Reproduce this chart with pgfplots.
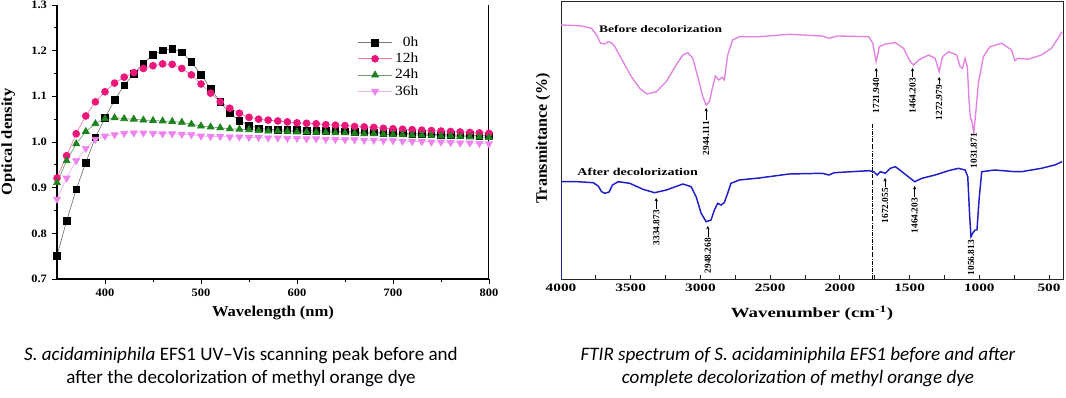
\documentclass[border=0pt]{standalone}
\usepackage{fontspec}
\setmainfont{Liberation Serif}
\newfontfamily\lserif[FakeStretch=1.1]{Liberation Serif}
\newfontfamily\rserif[FakeStretch=1.35]{Liberation Serif}
\newfontfamily\capfont{Carlito}
\usepackage{pgfplots}
\usepackage{pgfplotstable}
\pgfplotsset{compat=1.18}
\usetikzlibrary{arrows.meta}
\definecolor{pinkM}{RGB}{236,22,123}
\definecolor{pinkL}{RGB}{240,120,170}
\definecolor{greenM}{RGB}{30,130,30}
\definecolor{greenL}{RGB}{110,160,110}
\definecolor{violM}{RGB}{238,130,238}
\definecolor{violL}{RGB}{245,175,245}
\definecolor{grayL}{RGB}{120,120,120}
\definecolor{ftirP}{RGB}{228,128,228}
\definecolor{ftirB}{RGB}{30,30,200}

\pgfplotstableread{
wl h0 h12 h24 h36
350 0.751 0.921 0.911 0.875
360 0.827 0.970 0.959 0.921
370 0.896 1.018 0.996 0.959
380 0.955 1.057 1.023 0.986
390 1.010 1.088 1.040 1.006
400 1.053 1.110 1.051 1.013
410 1.092 1.129 1.053 1.016
420 1.124 1.142 1.051 1.019
430 1.150 1.152 1.050 1.020
440 1.172 1.161 1.048 1.020
450 1.191 1.167 1.047 1.019
460 1.201 1.171 1.046 1.018
470 1.204 1.170 1.045 1.018
480 1.196 1.161 1.043 1.017
490 1.176 1.147 1.039 1.016
500 1.147 1.127 1.035 1.013
510 1.117 1.107 1.033 1.012
520 1.088 1.088 1.031 1.012
530 1.063 1.074 1.029 1.011
540 1.047 1.063 1.028 1.011
550 1.036 1.054 1.027 1.010
560 1.030 1.050 1.025 1.010
570 1.028 1.048 1.024 1.009
580 1.027 1.046 1.024 1.009
590 1.026 1.044 1.023 1.008
600 1.026 1.042 1.022 1.008
610 1.025 1.041 1.022 1.007
620 1.025 1.040 1.021 1.007
630 1.024 1.038 1.021 1.006
640 1.024 1.037 1.020 1.006
650 1.023 1.036 1.020 1.005
660 1.022 1.034 1.019 1.005
670 1.022 1.033 1.018 1.004
680 1.021 1.032 1.018 1.004
690 1.020 1.030 1.017 1.003
700 1.020 1.029 1.016 1.003
710 1.019 1.028 1.016 1.002
720 1.018 1.027 1.015 1.001
730 1.018 1.026 1.015 1.001
740 1.017 1.025 1.014 1.000
750 1.016 1.024 1.013 1.000
760 1.016 1.023 1.013 0.999
770 1.015 1.022 1.012 0.998
780 1.015 1.021 1.011 0.998
790 1.014 1.020 1.011 0.997
800 1.014 1.019 1.010 0.996
}\uvvis

\pgfplotstableread{
w t
4000 254
3864 253.3
3781 250.7
3745 244
3716 235.7
3686 235
3662 237.3
3638 236.3
3614 232.3
3555 217.3
3495 202.3
3436 190.7
3384 185
3317 187.3
3245 197.3
3174 214
3126 224
3090 226.3
3055 220.7
3019 202.3
2983 182.3
2959 174
2936 177.3
2912 192.3
2893 203
2869 199
2845 201.7
2829 199
2805 224
2769 239
2721 242.3
2579 242.3
2364 244.7
2126 243
2079 240.7
2019 243
1793 242.3
1764 235.7
1740 217.3
1717 232.3
1674 235
1602 236.3
1543 230.7
1495 217.3
1471 214
1436 219
1364 224
1317 220.7
1288 207.3
1264 222.3
1221 227.3
1162 224
1138 212.3
1121 210.7
1102 220.7
1086 212.3
1074 179
1064 160.7
1055 159
1040 145.7
1026 165.7
1007 195.7
971 222.3
924 232.3
840 235.7
769 229
745 218.3
721 220.7
650 219.7
555 224
483 230.7
436 240.7
407 247.3
}\before

\pgfplotstableread{
w t
4000 0
4000 97.3
3881 97.3
3769 96.3
3733 93
3709 87.3
3686 85.7
3655 87
3631 94
3590 97.3
3507 95.7
3412 89.7
3329 86.3
3245 89
3126 95
3067 92.3
3031 82.3
2995 65.7
2959 57.3
2924 59
2900 69
2876 75.7
2852 74
2829 76.3
2805 85.7
2781 95.7
2721 99
2579 101
2364 105
2126 105.7
2079 104
2040 106.3
1793 108.3
1757 107.3
1733 104
1710 107.3
1674 105.7
1638 110.7
1602 112.3
1555 107.3
1495 100.7
1464 97.3
1412 100.7
1317 104
1221 108.3
1150 110.7
1102 109
1083 102.3
1069 62.3
1060 42.3
1048 45.7
1031 49
1017 49
1002 79
983 107.3
888 109
745 107.3
698 107.3
555 110.7
459 114
407 117.3
}\after

\begin{document}
\begin{tikzpicture}
\path[use as bounding box] (0,0) rectangle (799.5pt,297.75pt);

% ---------- left: UV-Vis ----------
\begin{axis}[
  at={(42.75pt,88.5pt)}, anchor=south west,
  scale only axis, width=324pt, height=205.5pt,
  xmin=350, xmax=800, ymin=0.7, ymax=1.3,
  axis x line*=bottom, axis y line*=left,
  axis line style={line width=0.9pt,-},
  xtick={400,500,600,700,800}, minor xtick={450,550,650,750},
  ytick={0.7,0.8,0.9,1.0,1.1,1.2,1.3},
  minor ytick={0.75,0.85,0.95,1.05,1.15,1.25},
  tick align=outside, major tick length=4pt, minor tick length=2.5pt,
  tick style={line width=0.7pt,black},
  /pgf/number format/assume math mode=true,
  yticklabel style={/pgf/number format/.cd, fixed, fixed zerofill, precision=1},
  tick label style={font=\lserif\bfseries\fontsize{8.5}{10}\selectfont},
  xlabel={Wavelength (nm)}, ylabel={Optical density},
  label style={font=\lserif\bfseries\fontsize{11.3}{13}\selectfont},
  xlabel style={at={(axis description cs:0.5,-0.124)}, anchor=center},
  ylabel style={at={(axis description cs:-0.113,0.5)}, anchor=center},
  legend style={at={(axis description cs:0.843,0.895)}, anchor=north east,
    draw=none, fill=none, font=\lserif\fontsize{10.5}{12}\selectfont,
    row sep=-0.6pt, inner sep=0pt},
  legend cell align=right,
  legend image code/.code={\draw[mark repeat=2,mark phase=2] plot coordinates {(0cm,0cm) (0.45cm,0cm) (0.9cm,0cm)};},
]
\addplot[grayL, line width=0.5pt, mark=square*, mark size=2.5pt, mark options={black, fill=black}] table[x=wl,y=h0] {\uvvis};
\addlegendentry{0h}
\addplot[pinkL, line width=0.5pt, mark=*, mark size=2.6pt, mark options={pinkM, fill=pinkM}] table[x=wl,y=h12] {\uvvis};
\addlegendentry{12h}
\addplot[greenL, line width=0.5pt, mark=triangle*, mark size=3pt, mark options={greenM, fill=greenM}] table[x=wl,y=h24] {\uvvis};
\addlegendentry{24h}
\addplot[violL, line width=0.5pt, mark=triangle*, mark size=3pt, mark options={violM, fill=violM, rotate=180}] table[x=wl,y=h36] {\uvvis};
\addlegendentry{36h}
\draw[line width=0.9pt] (rel axis cs:1,0) -- (rel axis cs:1,1);
\end{axis}

% ---------- right: FTIR ----------
\begin{axis}[
  at={(420.75pt,88.5pt)}, anchor=south west,
  scale only axis, width=376.5pt, height=208.5pt,
  x dir=reverse, xmin=400, xmax=4000, ymin=0, ymax=278,
  axis line style={line width=0.6pt, black!85},
  ytick=\empty,
  xtick={500,1000,1500,2000,2500,3000,3500,4000},
  minor xtick={750,1250,1750,2250,2750,3250,3750},
  xtick pos=bottom, tick align=inside,
  major tick length=3pt, minor tick length=3pt,
  tick style={line width=0.6pt,black!85},
  /pgf/number format/assume math mode=true,
  /pgf/number format/1000 sep={},
  tick label style={font=\rserif\bfseries\fontsize{8.5}{10}\selectfont},
  xlabel={Wavenumber (cm\textsuperscript{-1})}, ylabel={Transmittance (\%)},
  xlabel style={font=\rserif\bfseries\fontsize{10.5}{12}\selectfont, at={(axis description cs:0.5,-0.122)}, anchor=center},
  ylabel style={font=\bfseries\fontsize{12}{14}\selectfont, at={(axis description cs:-0.036,0.505)}, anchor=center},
]
\addplot[ftirP, line width=1pt] table[x=w,y=t] {\before};
\addplot[ftirB, line width=1.1pt] table[x=w,y=t] {\after};
\draw[densely dashdotted, line width=0.6pt] (axis cs:1770,0) -- (axis cs:1770,156);
\node[font=\rserif\bfseries\fontsize{7.5}{9}\selectfont] at (axis cs:3286,250) {Before decolorization};
\node[font=\rserif\bfseries\fontsize{7.8}{9}\selectfont] at (axis cs:3450,107) {After decolorization};
\begin{scope}[every node/.style={font=\bfseries\fontsize{7}{8}\selectfont, rotate=90, anchor=east, inner sep=0pt}]
\node at (axis cs:2959,158) {2944.111};
\node at (axis cs:1740,201) {1721.940};
\node at (axis cs:1479,201) {1464.203};
\node at (axis cs:1288,194) {1272.979};
\node at (axis cs:1040,146) {1031.871};
\node at (axis cs:3317,69) {3334.873};
\node at (axis cs:2947,41) {2948.268};
\node at (axis cs:1676,91) {1672.055};
\node at (axis cs:1464,81) {1464.203};
\node at (axis cs:1060,39) {1056.813};
\end{scope}
\begin{scope}[-{Stealth[length=2.5pt,width=2.5pt]}, line width=0.5pt]
\draw (axis cs:2959,159) -- (axis cs:2959,171);
\draw (axis cs:1740,202) -- (axis cs:1740,211);
\draw (axis cs:1479,202) -- (axis cs:1479,211);
\draw (axis cs:1288,195) -- (axis cs:1288,202);
\draw (axis cs:3317,70) -- (axis cs:3317,81);
\draw (axis cs:2947,42) -- (axis cs:2947,53);
\draw (axis cs:1676,92) -- (axis cs:1676,101);
\draw (axis cs:1464,82) -- (axis cs:1464,93);
\end{scope}
\end{axis}

% ---------- captions ----------
\node[font=\capfont\fontsize{14.3}{16.8}\selectfont, align=center] at (180.75pt,22.5pt)
  {\textit{S. acidaminiphila} EFS1 UV–Vis scanning peak before and\\after the decolorization of methyl orange dye};
\node[font=\capfont\itshape\fontsize{14.3}{16.8}\selectfont, align=center] at (598.5pt,22.5pt)
  {FTIR spectrum of S. acidaminiphila EFS1 before and after\\complete decolorization of methyl orange dye};
\end{tikzpicture}
\end{document}
